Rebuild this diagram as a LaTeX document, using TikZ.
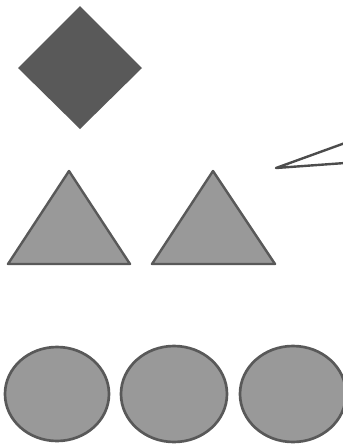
\documentclass[tikz,border=0pt]{standalone}
\usepackage{tikz}
\begin{document}
\begin{tikzpicture}[x = 0.75pt, y = -0.75pt]
		\useasboundingbox (0,0) rectangle (343,444);
		\clip (0,0) rectangle (343,444);
		% diamond
		\fill [black!65] (80,6) -- (142,68) -- (80,129) -- (18,68) -- cycle;
		% triangles
		\draw [line width = 1.8pt, black!65, fill = black!40, line join = round] (69,171) -- (130,264) -- (8,264) -- cycle;
		\draw [line width = 1.8pt, black!65, fill = black!40, line join = round] (213,171) -- (275,264) -- (152,264) -- cycle;
		% callout
		\coordinate (tip) at (276,168);
		\draw [line width = 1.8pt, black!70, line join = round] (345,143) -- (tip) -- (345,163);
		% circles
		\draw [line width = 2pt, black!65, fill = black!40] (57,394) ellipse (52 and 47);
		\draw [line width = 2pt, black!65, fill = black!40] (174,394) ellipse (53 and 48);
		\draw [line width = 2pt, black!65, fill = black!40] (293,394) ellipse (53 and 48);
	\end{tikzpicture}
\end{document}
